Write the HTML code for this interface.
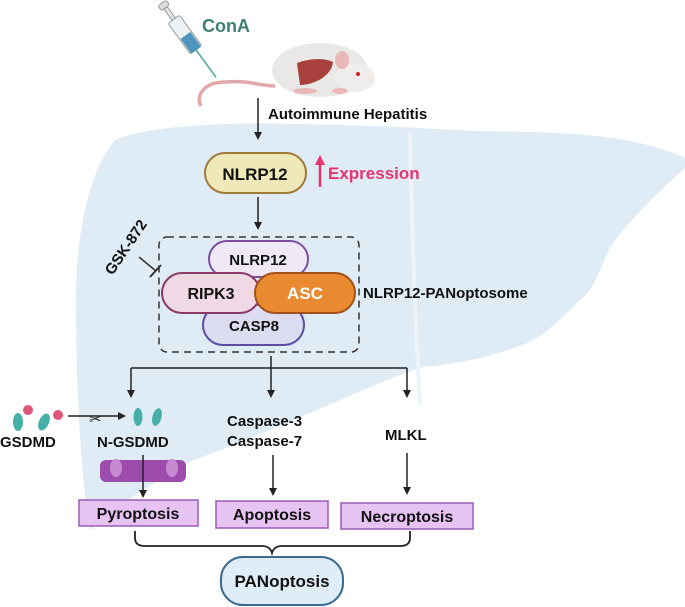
<!DOCTYPE html>
<html><head><style>
body{margin:0;background:#fff;}
svg{display:block;font-family:"Liberation Sans",sans-serif;font-weight:bold;}
</style></head><body>
<svg width="685" height="607" viewBox="0 0 685 607" xmlns="http://www.w3.org/2000/svg">
<defs>
<marker id="ah" markerWidth="8" markerHeight="8" refX="6" refY="4" orient="auto" markerUnits="userSpaceOnUse"><path d="M0,0 L8,4 L0,8 Z" fill="#222"/></marker>
<marker id="ahp" markerWidth="10" markerHeight="10" refX="5" refY="5" orient="auto" markerUnits="userSpaceOnUse"><path d="M0,0 L10,5 L0,10 Z" fill="#e8336e"/></marker>
</defs>
<!-- liver -->
<path d="M115,140 C150,125 230,122 300,124 C380,126 430,128 470,131 C550,132 630,132 685,158 L685,168 C660,190 630,220 613,243 C600,265 595,290 580,300 C560,320 545,335 527,343 C490,358 450,365 423,367 C380,380 300,420 187,463 C150,485 110,510 90,530 C80,470 76,380 76,300 C76,230 90,170 115,140 Z" fill="#dfebf5"/>
<path d="M410,132 C412,220 414,300 420,405" stroke="#eef4fa" stroke-width="4" fill="none"/>
<!-- syringe -->
<g transform="translate(162,3) rotate(-36)">
<rect x="-5" y="0" width="10" height="6" rx="2" fill="#ddd" stroke="#999"/>
<rect x="-2" y="6" width="4" height="14" fill="#e4e4e4" stroke="#999"/>
<rect x="-7" y="20" width="14" height="38" rx="2" fill="#eef2f4" stroke="#999"/>
<rect x="-6" y="40" width="12" height="18" fill="#4f95bd"/>
<line x1="0" y1="58" x2="0" y2="92" stroke="#4a9" stroke-width="1.5"/>
</g>
<!-- mouse -->
<path d="M201,106 C195,95 205,82 225,82 C250,80 260,86 275,86" stroke="#e0a8a8" stroke-width="3.5" fill="none"/>
<ellipse cx="320" cy="70" rx="48" ry="27" fill="#eae8e6"/>
<ellipse cx="355" cy="78" rx="20" ry="14" fill="#efedeb"/>
<path d="M297,63 C310,58 325,58 333,62 C332,75 315,85 300,85 Z" fill="#a8403e"/>
<ellipse cx="342" cy="60" rx="7" ry="9" fill="#e8b8b8"/>
<circle cx="358" cy="74" r="2" fill="#c22"/>
<ellipse cx="305" cy="91" rx="12" ry="3" fill="#e8b8b8"/>
<ellipse cx="340" cy="91" rx="8" ry="3" fill="#e8b8b8"/>
<text x="202" y="32" font-size="18" fill="#3f7f73">ConA</text>
<line x1="258" y1="98" x2="258" y2="138" stroke="#222" stroke-width="1.5" marker-end="url(#ah)"/>
<text x="268" y="119" font-size="15" fill="#111">Autoimmune Hepatitis</text>
<!-- NLRP12 -->
<rect x="205" y="153" width="101" height="40" rx="20" fill="#efe8b8" stroke="#a07a3a" stroke-width="2"/>
<text x="255" y="180" font-size="17" text-anchor="middle" fill="#111">NLRP12</text>
<line x1="320" y1="187" x2="320" y2="160" stroke="#e8336e" stroke-width="2.5" marker-end="url(#ahp)"/>
<text x="328" y="179" font-size="17" fill="#e8336e">Expression</text>
<line x1="258" y1="197" x2="258" y2="228" stroke="#222" stroke-width="1.5" marker-end="url(#ah)"/>
<!-- dashed box -->
<rect x="159" y="237" width="200" height="115" rx="8" fill="none" stroke="#333" stroke-width="1.5" stroke-dasharray="7,5"/>
<rect x="209" y="241" width="99" height="36" rx="18" fill="#efe9f7" stroke="#7b4ea0" stroke-width="2"/>
<text x="258" y="265" font-size="15" text-anchor="middle" fill="#111">NLRP12</text>
<rect x="203" y="305" width="101" height="40" rx="20" fill="#dcdcf0" stroke="#5a4ea0" stroke-width="2"/>
<text x="254" y="331" font-size="15" text-anchor="middle" fill="#111">CASP8</text>
<rect x="162" y="273" width="98" height="40" rx="20" fill="#efd9e5" stroke="#8a3a66" stroke-width="2"/>
<text x="211" y="299" font-size="16" text-anchor="middle" fill="#111">RIPK3</text>
<rect x="255" y="273" width="100" height="40" rx="20" fill="#e98a30" stroke="#a0521a" stroke-width="2"/>
<text x="305" y="299" font-size="17" text-anchor="middle" fill="#fff">ASC</text>
<text x="363" y="298" font-size="15" fill="#111">NLRP12-PANoptosome</text>
<text transform="translate(130,250) rotate(-56)" font-size="15" text-anchor="middle" fill="#111">GSK-872</text>
<line x1="139" y1="257" x2="156" y2="271" stroke="#333" stroke-width="1.5"/>
<line x1="150" y1="277" x2="161" y2="265" stroke="#333" stroke-width="2"/>
<!-- branches -->
<path d="M271,356 V368 M131,368 H407" stroke="#222" stroke-width="1.5" fill="none"/>
<line x1="131" y1="368" x2="131" y2="396" stroke="#222" stroke-width="1.5" marker-end="url(#ah)"/>
<line x1="271" y1="368" x2="271" y2="396" stroke="#222" stroke-width="1.5" marker-end="url(#ah)"/>
<line x1="407" y1="368" x2="407" y2="396" stroke="#222" stroke-width="1.5" marker-end="url(#ah)"/>
<!-- GSDMD -->
<g fill="#46b0a8"><ellipse cx="18" cy="422" rx="5" ry="9"/><ellipse cx="44" cy="422" rx="5" ry="9" transform="rotate(25 44 422)"/>
<ellipse cx="138" cy="417" rx="4.5" ry="9"/><ellipse cx="157" cy="417" rx="4.5" ry="9" transform="rotate(15 157 417)"/></g>
<g fill="#e05578"><circle cx="28" cy="410" r="5"/><circle cx="58" cy="415" r="5"/></g>
<line x1="68" y1="416" x2="124" y2="416" stroke="#222" stroke-width="1.5" marker-end="url(#ah)"/>
<text x="89" y="424" font-size="15" font-weight="normal" fill="#222">✂</text>
<text x="0" y="447" font-size="15" fill="#111">GSDMD</text>
<text x="97" y="447" font-size="15" fill="#111">N-GSDMD</text>
<rect x="100" y="460" width="86" height="22" rx="6" fill="#9d4cae"/>
<ellipse cx="116" cy="468" rx="6" ry="9" fill="#c68ad0"/><ellipse cx="172" cy="468" rx="6" ry="9" fill="#c68ad0"/>
<line x1="143" y1="455" x2="143" y2="496" stroke="#222" stroke-width="1.5" marker-end="url(#ah)"/>
<text x="227" y="426" font-size="15" fill="#111">Caspase-3</text>
<text x="227" y="446" font-size="15" fill="#111">Caspase-7</text>
<text x="385" y="440" font-size="15" fill="#111">MLKL</text>
<line x1="273" y1="455" x2="273" y2="494" stroke="#222" stroke-width="1.5" marker-end="url(#ah)"/>
<line x1="407" y1="453" x2="407" y2="493" stroke="#222" stroke-width="1.5" marker-end="url(#ah)"/>
<!-- boxes -->
<g fill="#e6c3f2" stroke="#9a5cb8" stroke-width="1.5">
<rect x="79" y="500" width="119" height="26"/><rect x="216" y="501" width="112" height="27"/><rect x="341" y="503" width="132" height="26"/></g>
<text x="138" y="519" font-size="16" text-anchor="middle" fill="#111">Pyroptosis</text>
<text x="272" y="520" font-size="16" text-anchor="middle" fill="#111">Apoptosis</text>
<text x="407" y="522" font-size="16" text-anchor="middle" fill="#111">Necroptosis</text>
<path d="M135,531 V538 Q135,546 145,546 H262 Q270,546 272,553 Q274,546 282,546 H400 Q410,546 410,538 V531" stroke="#222" stroke-width="1.8" fill="none"/>
<rect x="221" y="557" width="122" height="48" rx="22" fill="#dfedf8" stroke="#3a6a90" stroke-width="2"/>
<text x="282" y="587" font-size="17" text-anchor="middle" fill="#111">PANoptosis</text>
</svg>
</body></html>
